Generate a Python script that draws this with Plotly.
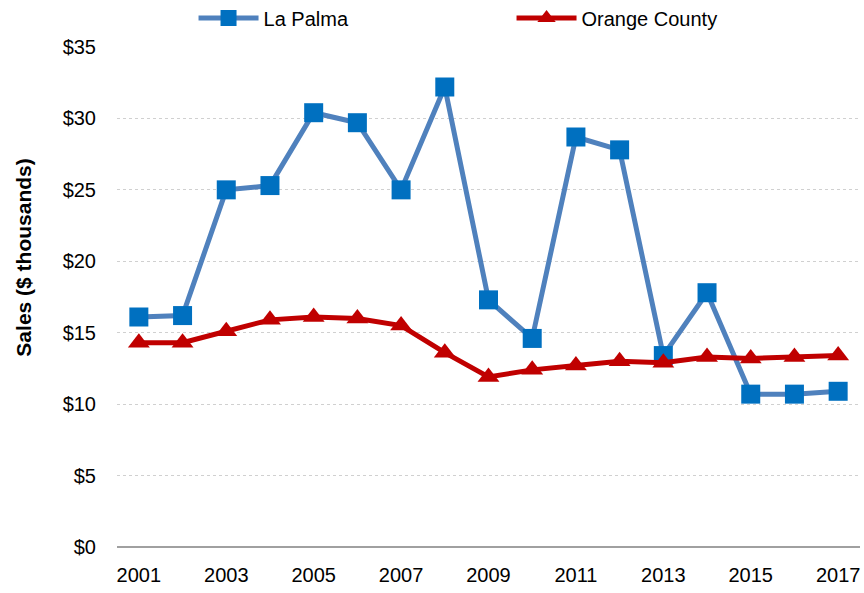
import plotly.graph_objects as go

years = list(range(2001, 2018))
la_palma = [16.1, 16.2, 25.0, 25.3, 30.4, 29.7, 25.0, 32.2, 17.3, 14.6,
            28.7, 27.8, 13.4, 17.8, 10.7, 10.7, 10.9]
orange_county = [14.3, 14.3, 15.1, 15.9, 16.1, 16.0, 15.5, 13.6, 11.9, 12.4,
                 12.7, 13.0, 12.9, 13.3, 13.2, 13.3, 13.4]
y_ticks = [0, 5, 10, 15, 20, 25, 30, 35]
x_ticks = list(range(2001, 2018, 2))

font_family = "Liberation Sans, Arial"

fig = go.Figure()
fig.add_trace(go.Scatter(
    x=years, y=la_palma, name="La Palma", mode="lines+markers",
    line=dict(color="#4F81BD", width=5),
    marker=dict(symbol="square", size=19, color="#0070C0"),
))
fig.add_trace(go.Scatter(
    x=years, y=orange_county, name="Orange County", mode="lines+markers",
    line=dict(color="#C00000", width=5),
    marker=dict(symbol="triangle-up", size=19, color="#C00000"),
))

# y-axis title placed as a rotated annotation
fig.add_annotation(
    text="<b>Sales ($ thousands)</b>", textangle=-90,
    xref="paper", yref="paper", x=-0.127, y=0.578,
    xanchor="center", yanchor="middle", showarrow=False,
    font=dict(family=font_family, size=21, color="black"),
)

fig.update_layout(
    width=864, height=593,
    margin=dict(l=117, r=4, t=47, b=46, autoexpand=False),
    paper_bgcolor="white", plot_bgcolor="white",
    font=dict(family=font_family, size=20, color="black"),
    showlegend=True,
    legend=dict(orientation="h", x=0.531, y=1.058, xanchor="center", yanchor="middle",
                font=dict(size=20), itemwidth=60, entrywidth=243,
                bgcolor="rgba(0,0,0,0)"),
    xaxis=dict(range=[2000.5, 2017.5], tickvals=x_ticks,
               ticktext=[str(y) for y in x_ticks],
               showgrid=False, zeroline=False, showline=False, ticks="",
               ticklabelstandoff=14),
    yaxis=dict(range=[0, 35], tickvals=y_ticks,
               ticktext=[f"${v}" for v in y_ticks],
               showgrid=True, gridcolor="#D0D0D0", griddash="dot", gridwidth=1,
               zeroline=True, zerolinecolor="#A0A0A0", zerolinewidth=2,
               showline=False, ticks="", ticklabelstandoff=20),
)

fig.write_html("out.html")
